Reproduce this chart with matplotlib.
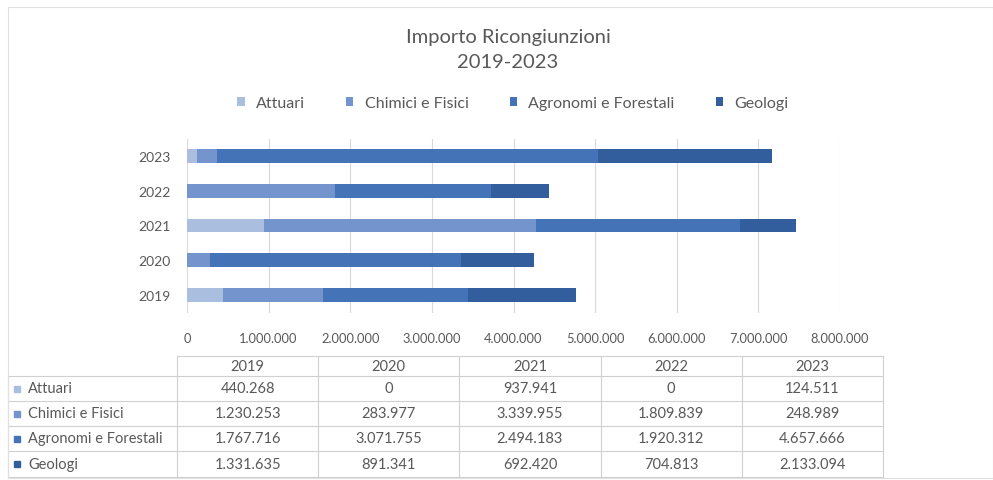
import matplotlib.pyplot as plt
import numpy as np
from matplotlib.lines import Line2D
from matplotlib.patches import Rectangle

plt.rcParams["font.family"] = ["Lato", "DejaVu Sans"]

years = ["2019", "2020", "2021", "2022", "2023"]
categories = ["Attuari", "Chimici e Fisici", "Agronomi e Forestali", "Geologi"]
attuari = [440268, 0, 937941, 0, 124511]
chimici = [1230253, 283977, 3339955, 1809839, 248989]
agronomi = [1767716, 3071755, 2494183, 1920312, 4657666]
geologi = [1331635, 891341, 692420, 704813, 2133094]
series = [attuari, chimici, agronomi, geologi]
colors = ["#aabfdf", "#7394cc", "#4473b8", "#335e9d"]
TEXT = "#595959"
GRID = "#d9d9d9"


def fmt(v):
    return f"{v:,.0f}".replace(",", ".")


def main() -> None:
    W, H = 993, 481
    fig = plt.figure(figsize=(W / 100, H / 100), dpi=100)

    # chart border
    fig.add_artist(Rectangle((8 / W, 0.005), 1 - 8 / W, 1 - 8 / H - 0.005,
                             transform=fig.transFigure, fill=False,
                             edgecolor="#e0e0e0", lw=0.8))

    ax = fig.add_axes([187 / W, 1 - 313.5 / H, (840 - 187) / W, 174 / H])
    y = np.arange(len(years))
    left = np.zeros(len(years))
    for vals, name, c in zip(series, categories, colors):
        ax.barh(y, vals, left=left, height=0.4, color=c, label=name)
        left += np.array(vals)

    ax.set_xlim(0, 8_000_000)
    ax.set_ylim(-0.5, len(years) - 0.5)
    ax.set_xticks(np.arange(0, 8_000_001, 1_000_000))
    ax.set_xticklabels([fmt(v) for v in ax.get_xticks()], fontsize=9.3, color=TEXT)
    ax.set_yticks(y, years, fontsize=10, color=TEXT)
    ax.grid(axis="x", color=GRID, lw=0.8)
    ax.set_axisbelow(True)
    for s in ax.spines.values():
        s.set_visible(False)
    ax.tick_params(length=0, pad=12)
    ax.tick_params(axis="x", pad=14)

    fig.text(508 / W, 1 - 38 / H, "Importo Ricongiunzioni", ha="center", va="center",
             fontsize=14.5, color=TEXT)
    fig.text(508 / W, 1 - 62 / H, "2019-2023", ha="center", va="center",
             fontsize=14.5, color=TEXT)

    fig.legend(loc="center", bbox_to_anchor=(513 / W, 1 - 104 / H), ncol=4,
               frameon=False, fontsize=11.5, labelcolor=TEXT, handlelength=0.45,
               handleheight=0.45, handletextpad=0.7, columnspacing=2.6)

    # data table
    tab = fig.add_axes([0, 0, 1, 1], facecolor="none")
    tab.set_xlim(0, W)
    tab.set_ylim(H, 0)
    tab.axis("off")
    col_edges = np.linspace(177, 883, len(years) + 1)
    row_edges = [357, 377, 402, 427, 452, 478]
    lc = "#d0d0d0"
    for ye in row_edges:
        x0 = col_edges[0] if ye == row_edges[0] else 8
        tab.add_line(Line2D([x0, col_edges[-1]], [ye, ye], color=lc, lw=0.8))
    for xe in col_edges:
        tab.add_line(Line2D([xe, xe], [row_edges[0], row_edges[-1]], color=lc, lw=0.8))
    tab.add_line(Line2D([8, 8], [row_edges[1], row_edges[-1]], color=lc, lw=0.8))

    fs = 10.5
    for j, yr in enumerate(years):
        xc = (col_edges[j] + col_edges[j + 1]) / 2
        tab.text(xc, (row_edges[0] + row_edges[1]) / 2, yr, ha="center", va="center",
                 fontsize=fs, color=TEXT)
    for i, (name, vals, c) in enumerate(zip(categories, series, colors)):
        yc = (row_edges[i + 1] + row_edges[i + 2]) / 2
        tab.add_patch(Rectangle((14, yc - 3), 6, 6, color=c))
        tab.text(28, yc, name, ha="left", va="center", fontsize=fs, color=TEXT)
        for j, v in enumerate(vals):
            xc = (col_edges[j] + col_edges[j + 1]) / 2
            tab.text(xc, yc, fmt(v), ha="center", va="center", fontsize=fs, color=TEXT)

    fig.savefig("out.png", dpi=100)
    plt.close(fig)


if __name__ == "__main__":
    main()
